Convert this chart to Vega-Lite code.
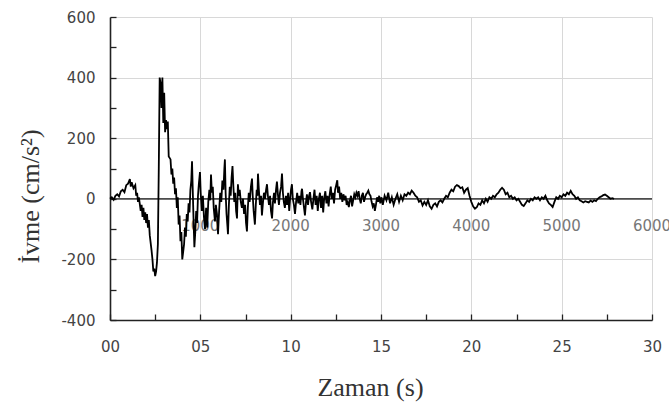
{
  "$schema": "https://vega.github.io/schema/vega-lite/v6.json",
  "width": 542,
  "height": 303,
  "autosize": {"type": "none"},
  "padding": {"left": 110, "top": 17, "right": 17, "bottom": 85},
  "background": "white",
  "config": {"view": {"stroke": null}},
  "encoding": {
    "x": {
      "field": "t", "type": "quantitative",
      "scale": {"domain": [0, 30], "nice": false},
      "axis": {
        "title": "Zaman (s)",
        "values": [0, 2.5, 5, 7.5, 10, 12.5, 15, 17.5, 20, 22.5, 25, 27.5, 30],
        "labelExpr": "datum.value % 5 === 0 ? (datum.value < 10 ? '0' + datum.value : '' + datum.value) : ''",
        "labelFont": "DejaVu Sans", "labelFontSize": 15, "labelColor": "#444",
        "labelPadding": 25, "labelFlush": false, "labelOverlap": false,
        "tickSize": -6,
        "tickColor": "#222", "tickWidth": 1.3,
        "domainColor": "#222", "domainWidth": 1.6,
        "grid": true, "gridColor": "#d8d8d8", "gridWidth": 1,
        "gridOpacity": {"condition": {"test": "datum.value % 5 === 0", "value": 1}, "value": 0},
        "titleFont": "Liberation Serif", "titleFontSize": 26, "titleFontWeight": "normal", "titleColor": "#333",
        "titleX": 260, "titleY": 67, "titleBaseline": "middle", "titleAlign": "center"
      }
    },
    "y": {
      "field": "a", "type": "quantitative",
      "scale": {"domain": [-400, 600], "nice": false},
      "axis": {
        "title": "İvme (cm/s²)",
        "values": [-400, -300, -200, -100, 0, 100, 200, 300, 400, 500, 600],
        "labelExpr": "datum.value % 200 === 0 ? '' + datum.value : ''",
        "labelFont": "DejaVu Sans", "labelFontSize": 15, "labelColor": "#444",
        "labelPadding": 21, "labelFlush": false, "labelOverlap": false,
        "tickSize": -6,
        "tickColor": "#222", "tickWidth": 1.3,
        "domainColor": "#222", "domainWidth": 1.6,
        "grid": true, "gridColor": "#d8d8d8", "gridWidth": 1,
        "gridOpacity": {"condition": {"test": "datum.value % 200 === 0", "value": 1}, "value": 0},
        "titleFont": "Liberation Serif", "titleFontSize": 26, "titleFontWeight": "normal", "titleColor": "#333",
        "titleX": -80, "titleY": 179, "titleBaseline": "middle", "titleAlign": "center", "titleAngle": 270
      }
    }
  },
  "layer": [
    {
      "data": {"values": [
        {"t": 5, "a": 0, "lab": "1000"}, {"t": 10, "a": 0, "lab": "2000"}, {"t": 15, "a": 0, "lab": "3000"},
        {"t": 20, "a": 0, "lab": "4000"}, {"t": 25, "a": 0, "lab": "5000"}, {"t": 30, "a": 0, "lab": "6000"}
      ]},
      "mark": {"type": "text", "dy": 27, "fontSize": 15, "font": "DejaVu Sans", "color": "#777", "baseline": "middle", "align": "center"},
      "encoding": {
        "text": {"field": "lab"}
      }
    },
    {
      "data": {"values": [{"t": 0, "a": 0}, {"t": 30, "a": 0}]},
      "mark": {"type": "line", "color": "#111", "strokeWidth": 1.3}
    },
    {
      "data": {"values": [
        {"t":0.0,"a":0},{"t":0.1,"a":5},{"t":0.2,"a":-3},{"t":0.3,"a":10},{"t":0.4,"a":15},{"t":0.5,"a":8},{"t":0.6,"a":25},{"t":0.7,"a":30},{"t":0.8,"a":22},{"t":0.9,"a":45},{"t":1.0,"a":50},{"t":1.1,"a":65},{"t":1.15,"a":40},{"t":1.2,"a":55},{"t":1.3,"a":35},{"t":1.4,"a":45},{"t":1.45,"a":10},{"t":1.5,"a":20},{"t":1.55,"a":-10},{"t":1.6,"a":5},{"t":1.7,"a":-40},{"t":1.75,"a":-20},{"t":1.8,"a":-60},{"t":1.85,"a":-30},{"t":1.9,"a":-70},{"t":1.95,"a":-45},{"t":2.0,"a":-80},{"t":2.05,"a":-50},{"t":2.1,"a":-95},{"t":2.15,"a":-70},{"t":2.2,"a":-120},{"t":2.3,"a":-170},{"t":2.35,"a":-200},{"t":2.4,"a":-240},{"t":2.45,"a":-230},{"t":2.5,"a":-255},{"t":2.55,"a":-240},{"t":2.6,"a":-210},{"t":2.65,"a":-150},{"t":2.7,"a":100},{"t":2.75,"a":400},{"t":2.8,"a":380},{"t":2.85,"a":300},{"t":2.9,"a":400},{"t":2.95,"a":250},{"t":3.0,"a":350},{"t":3.05,"a":220},{"t":3.1,"a":260},{"t":3.15,"a":230},{"t":3.2,"a":255},{"t":3.25,"a":140},{"t":3.3,"a":135},{"t":3.35,"a":130},{"t":3.4,"a":80},{"t":3.45,"a":100},
        {"t":3.5,"a":50},{"t":3.55,"a":70},{"t":3.6,"a":15},{"t":3.65,"a":35},{"t":3.7,"a":-30},{"t":3.75,"a":5},{"t":3.8,"a":-85},{"t":3.85,"a":-55},{"t":3.9,"a":-140},{"t":3.95,"a":-110},{"t":4.0,"a":-200},{"t":4.05,"a":-175},{"t":4.1,"a":-150},{"t":4.15,"a":-95},{"t":4.2,"a":-125},{"t":4.25,"a":-50},{"t":4.3,"a":-75},{"t":4.35,"a":-15},{"t":4.4,"a":-45},{"t":4.45,"a":30},{"t":4.5,"a":60},{"t":4.54,"a":124},{"t":4.58,"a":30},{"t":4.62,"a":-60},{"t":4.67,"a":-160},{"t":4.72,"a":-110},{"t":4.77,"a":-40},{"t":4.82,"a":-80},{"t":4.87,"a":10},{"t":4.92,"a":50},{"t":4.98,"a":88},{"t":5.02,"a":20},{"t":5.08,"a":-40},{"t":5.14,"a":10},{"t":5.2,"a":-60},{"t":5.26,"a":-100},{"t":5.32,"a":-30},{"t":5.38,"a":-95},{"t":5.44,"a":-10},{"t":5.5,"a":30},{"t":5.55,"a":-5},{"t":5.59,"a":80},{"t":5.64,"a":20},{"t":5.69,"a":40},{"t":5.74,"a":-30},{"t":5.81,"a":-75},{"t":5.86,"a":-20},{"t":5.92,"a":-50},{"t":5.98,"a":-117},{"t":6.04,"a":-40},{"t":6.1,"a":20},{"t":6.16,"a":-10},{"t":6.22,"a":60},{"t":6.28,"a":30},{"t":6.33,"a":100},{"t":6.36,"a":130},{"t":6.4,"a":20},{"t":6.45,"a":-50},{"t":6.5,"a":-90},{"t":6.53,"a":-117},{"t":6.58,"a":-20},{"t":6.63,"a":40},{"t":6.68,"a":10},{"t":6.73,"a":70},{"t":6.78,"a":108},{"t":6.83,"a":40},{"t":6.88,"a":-10},{"t":6.93,"a":20},{"t":6.98,"a":-40},{"t":7.03,"a":-65},{"t":7.08,"a":48},{"t":7.13,"a":10},{"t":7.18,"a":30},{"t":7.24,"a":-10},{"t":7.3,"a":-30},{"t":7.36,"a":0},{"t":7.42,"a":-50},{"t":7.48,"a":-20},{"t":7.53,"a":-80},{"t":7.58,"a":-108},{"t":7.63,"a":-30},{"t":7.68,"a":20},{"t":7.73,"a":-10},{"t":7.8,"a":40},{"t":7.86,"a":67},{"t":7.9,"a":10},{"t":7.95,"a":-40},{"t":8.02,"a":-85},{"t":8.07,"a":-20},{"t":8.12,"a":30},{"t":8.16,"a":10},{"t":8.19,"a":83},{"t":8.24,"a":30},{"t":8.3,"a":-20},{"t":8.36,"a":10},{"t":8.41,"a":-55},{"t":8.47,"a":-10},{"t":8.52,"a":20},{"t":8.58,"a":0},{"t":8.64,"a":30},{"t":8.69,"a":48},{"t":8.74,"a":10},{"t":8.8,"a":-20},{"t":8.86,"a":10},{"t":8.91,"a":-40},{"t":8.97,"a":-65},{"t":9.02,"a":-10},{"t":9.08,"a":20},{"t":9.13,"a":-15},{"t":9.19,"a":30},{"t":9.24,"a":57},{"t":9.3,"a":10},{"t":9.35,"a":-20},{"t":9.41,"a":20},{"t":9.47,"a":40},{"t":9.52,"a":83},{"t":9.57,"a":20},{"t":9.62,"a":-10},{"t":9.68,"a":-30},{"t":9.74,"a":10},{"t":9.8,"a":-20},{"t":9.86,"a":20},{"t":9.92,"a":-40},{"t":9.97,"a":0},{"t":10.02,"a":30},{"t":10.07,"a":48},{"t":10.12,"a":0},{"t":10.18,"a":-20},{"t":10.24,"a":-50},{"t":10.3,"a":-10},{"t":10.36,"a":20},{"t":10.42,"a":-15},{"t":10.48,"a":10},{"t":10.54,"a":-20},{"t":10.6,"a":25},{"t":10.63,"a":33},{"t":10.68,"a":0},{"t":10.74,"a":-30},{"t":10.79,"a":-55},{"t":10.85,"a":-10},{"t":10.9,"a":15},{"t":10.96,"a":-20},{"t":11.02,"a":10},{"t":11.07,"a":22},{"t":11.13,"a":-10},{"t":11.2,"a":-35},{"t":11.26,"a":0},{"t":11.32,"a":30},{"t":11.38,"a":-20},{"t":11.44,"a":10},{"t":11.5,"a":-40},{"t":11.56,"a":0},{"t":11.62,"a":20},{"t":11.68,"a":-30},{"t":11.74,"a":10},{"t":11.8,"a":-45},{"t":11.86,"a":5},{"t":11.92,"a":25},{"t":11.98,"a":-15},{"t":12.04,"a":10},{"t":12.1,"a":-25},{"t":12.16,"a":15},{"t":12.22,"a":40},{"t":12.28,"a":0},{"t":12.34,"a":20},{"t":12.4,"a":-15},{"t":12.46,"a":30},{"t":12.52,"a":45},{"t":12.58,"a":61},{"t":12.62,"a":20},{"t":12.68,"a":40},{"t":12.74,"a":0},{"t":12.8,"a":20},{"t":12.86,"a":-10},{"t":12.92,"a":15},{"t":12.98,"a":-5},{"t":13.04,"a":10},{"t":13.1,"a":-20},{"t":13.16,"a":-10},{"t":13.22,"a":-27},{"t":13.28,"a":-5},{"t":13.34,"a":10},{"t":13.4,"a":-25},{"t":13.46,"a":-5},{"t":13.52,"a":15},{"t":13.58,"a":5},{"t":13.64,"a":20},{"t":13.7,"a":10},{"t":13.76,"a":25},{"t":13.82,"a":0},{"t":13.88,"a":-15},{"t":13.94,"a":10},{"t":14.0,"a":20},{"t":14.06,"a":-10},{"t":14.12,"a":5},{"t":14.18,"a":15},{"t":14.24,"a":20},{"t":14.3,"a":27},{"t":14.36,"a":15},{"t":14.42,"a":10},{"t":14.48,"a":-10},{"t":14.54,"a":-25},{"t":14.6,"a":-15},{"t":14.66,"a":-40},{"t":14.72,"a":-20},{"t":14.78,"a":5},{"t":14.84,"a":-10},{"t":14.9,"a":10},{"t":14.96,"a":-15},{"t":15.02,"a":5},
        {"t":15.1,"a":-20},{"t":15.2,"a":10},{"t":15.3,"a":-5},{"t":15.4,"a":20},{"t":15.5,"a":-15},{"t":15.6,"a":5},{"t":15.7,"a":-20},{"t":15.8,"a":0},{"t":15.9,"a":15},{"t":16.0,"a":-10},{"t":16.1,"a":10},{"t":16.2,"a":-5},{"t":16.3,"a":15},{"t":16.4,"a":10},{"t":16.5,"a":20},{"t":16.6,"a":15},{"t":16.7,"a":27},{"t":16.8,"a":20},{"t":16.9,"a":10},{"t":17.0,"a":5},{"t":17.1,"a":-10},{"t":17.2,"a":-5},{"t":17.3,"a":-22},{"t":17.4,"a":-10},{"t":17.5,"a":-20},{"t":17.6,"a":-5},{"t":17.7,"a":-25},{"t":17.8,"a":-33},{"t":17.9,"a":-20},{"t":18.0,"a":-15},{"t":18.1,"a":-25},{"t":18.2,"a":-10},{"t":18.3,"a":-5},{"t":18.4,"a":-12},{"t":18.5,"a":0},{"t":18.6,"a":10},{"t":18.7,"a":5},{"t":18.8,"a":20},{"t":18.9,"a":30},{"t":19.0,"a":25},{"t":19.1,"a":40},{"t":19.2,"a":45},{"t":19.3,"a":42},{"t":19.4,"a":35},{"t":19.5,"a":38},{"t":19.6,"a":20},{"t":19.7,"a":30},{"t":19.8,"a":35},{"t":19.9,"a":10},{"t":20.0,"a":-10},{"t":20.1,"a":-25},{"t":20.2,"a":-33},{"t":20.3,"a":-28},{"t":20.4,"a":-15},{"t":20.5,"a":-20},{"t":20.6,"a":-5},{"t":20.7,"a":-15},{"t":20.8,"a":0},{"t":20.9,"a":-10},{"t":21.0,"a":5},{"t":21.1,"a":0},{"t":21.2,"a":10},{"t":21.3,"a":5},{"t":21.4,"a":15},{"t":21.5,"a":20},{"t":21.6,"a":30},{"t":21.7,"a":36},{"t":21.8,"a":30},{"t":21.9,"a":15},{"t":22.0,"a":20},{"t":22.1,"a":5},{"t":22.2,"a":10},{"t":22.3,"a":0},{"t":22.4,"a":5},{"t":22.5,"a":-5},{"t":22.6,"a":0},{"t":22.7,"a":-10},{"t":22.8,"a":-20},{"t":22.9,"a":-24},{"t":23.0,"a":-15},{"t":23.1,"a":-5},{"t":23.2,"a":-10},{"t":23.3,"a":0},{"t":23.4,"a":-5},{"t":23.5,"a":5},{"t":23.6,"a":0},{"t":23.7,"a":5},{"t":23.8,"a":-5},{"t":23.9,"a":5},{"t":24.0,"a":0},{"t":24.1,"a":10},{"t":24.2,"a":-5},{"t":24.3,"a":-15},{"t":24.4,"a":-20},{"t":24.5,"a":-27},{"t":24.6,"a":-10},{"t":24.7,"a":5},{"t":24.8,"a":0},{"t":24.9,"a":10},{"t":25.0,"a":5},{"t":25.1,"a":15},{"t":25.2,"a":10},{"t":25.3,"a":20},{"t":25.4,"a":15},{"t":25.5,"a":26},{"t":25.6,"a":15},{"t":25.7,"a":10},{"t":25.8,"a":0},{"t":25.9,"a":5},{"t":26.0,"a":-5},{"t":26.1,"a":-8},{"t":26.2,"a":-12},{"t":26.3,"a":-8},{"t":26.4,"a":-10},{"t":26.5,"a":-12},{"t":26.6,"a":-6},{"t":26.7,"a":-10},{"t":26.8,"a":-5},{"t":26.9,"a":-8},{"t":27.0,"a":0},{"t":27.1,"a":5},{"t":27.2,"a":8},{"t":27.3,"a":12},{"t":27.4,"a":14},{"t":27.5,"a":10},{"t":27.6,"a":5},{"t":27.7,"a":0},{"t":27.8,"a":2},{"t":27.9,"a":0}
      ]},
      "mark": {"type": "line", "color": "#000", "strokeWidth": 1.8, "strokeJoin": "miter"}
    }
  ]
}
